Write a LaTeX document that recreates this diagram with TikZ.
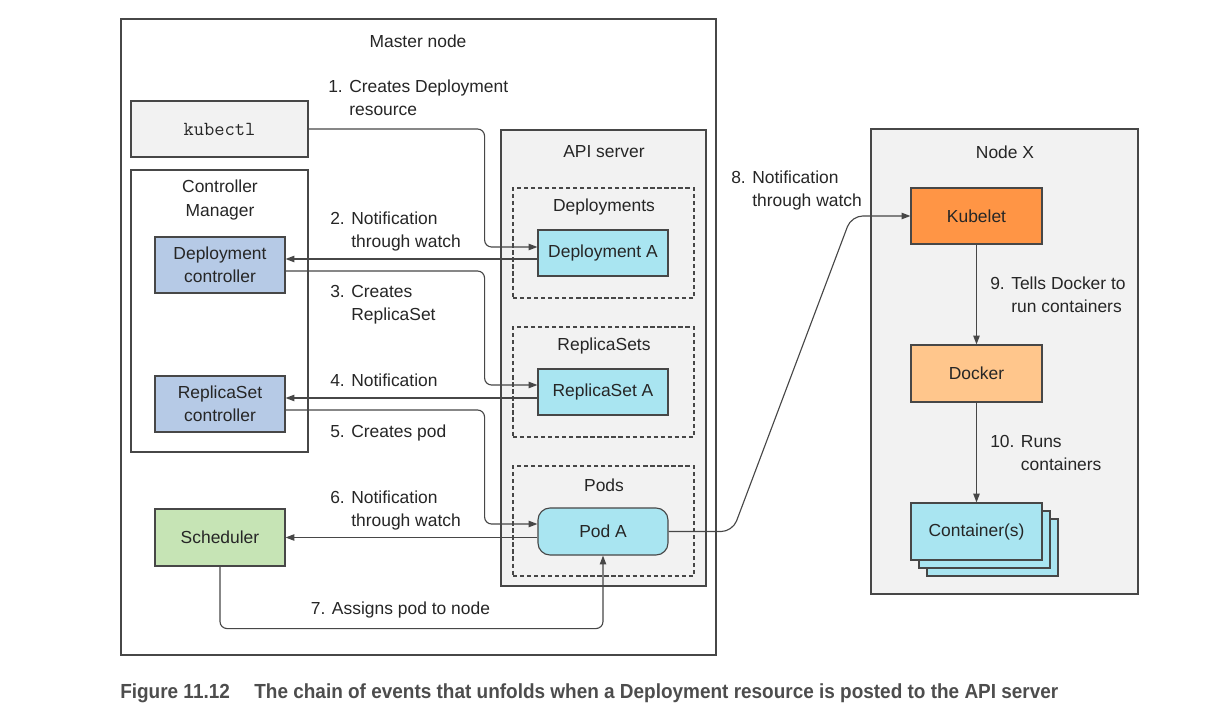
\documentclass[tikz,border=0pt]{standalone}
\usepackage{fontspec}
\setmainfont{Liberation Sans}
\newfontfamily\capfont[FakeStretch=0.93]{Liberation Sans}
\usepackage{xcolor}
\definecolor{cLine}{HTML}{474747}
\definecolor{cText}{HTML}{262626}
\definecolor{cPanel}{HTML}{F2F2F2}
\definecolor{cCtl}{HTML}{B6CAE6}
\definecolor{cSched}{HTML}{C6E4B5}
\definecolor{cRes}{HTML}{A9E5F1}
\definecolor{cKubelet}{HTML}{FF9545}
\definecolor{cDocker}{HTML}{FFC68C}
\definecolor{cCap}{HTML}{4D4D4D}
\usetikzlibrary{positioning,arrows.meta,calc}
\tikzset{
  wh/.style 2 args={minimum width={#1*0.025cm},minimum height={#2*0.025cm}},
  node-frame/.style={draw=cLine,line width=0.8pt,fill=white,inner sep=0pt},
  node-panel/.style={node-frame,fill=cPanel},
  node-group/.style={draw=cLine,line width=0.8pt,dashed,dash pattern=on 3pt off 2pt,inner sep=0pt},
  node-box/.style={draw=cLine,line width=0.8pt,align=center,inner sep=0pt},
  node-ctl/.style={node-box,fill=cCtl},
  node-sched/.style={node-box,fill=cSched},
  node-res/.style={node-box,fill=cRes},
  node-kubelet/.style={node-box,fill=cKubelet},
  node-docker/.style={node-box,fill=cDocker},
  step-label/.style={anchor=north west,inner sep=0pt,align=left},
  arrow/.style={-{Triangle[length=2.2mm,width=1.6mm]},line width=0.8pt,draw=cLine,rounded corners=5pt},
}

\begin{document}
\begin{tikzpicture}[x=0.025cm,y=-0.025cm,every node/.append style={font=\fontsize{12.4}{16.4}\selectfont,text=cText}]
  \useasboundingbox (0,0) rectangle (1222,714);
  % master node with its controllers
  \node[node-frame,wh={595}{636}] (master) at (418.5,337) {};
  \node (masterlbl) at (418,41) {Master node};
  \node[node-panel,wh={177}{56}] (kubectl) at (219.5,129) {\ttfamily\fontsize{14.2}{16}\selectfont kubectl};
  \node[node-frame,wh={177}{282}] (cm) at (219.5,311) {};
  \node[align=center] (cmlbl) at (220,200) {Controller\\Manager};
  \node[node-ctl,wh={130}{56}] (depctl) at (220,265) {Deployment\\controller};
  \node[node-ctl,wh={130}{56}] (rsctl) at (220,404) {ReplicaSet\\controller};
  \node[node-sched,wh={130}{57}] (sched) at (220,537.5) {Scheduler};

  \node[node-panel,wh={205}{456}] (api) at (603.5,358) {};
  \node (apilbl) at (604,152) {API server};
  \node[node-group,wh={181}{110}] (deps) at (603.5,243) {};
  \node[node-group,wh={181}{110}] (rss) at (603.5,382) {};
  \node[node-group,wh={181}{110}] (pods) at (603.5,521) {};
  \node (depslbl) at (604,207) {Deployments};
  \node (rsslbl) at (604,346) {ReplicaSets};
  \node (podslbl) at (604,485) {Pods};
  \node[node-res,wh={130}{46}] (depA) at (603,253) {Deployment A};
  \node[node-res,wh={130}{46}] (rsA) at (603,392) {ReplicaSet A};
  \node[node-res,wh={130}{47},rounded corners=3mm] (podA) at (603,531.5) {Pod A};

  \node[node-panel,wh={267}{465}] (nodex) at (1004.5,361.5) {};
  \node (nodexlbl) at (1005,152) {Node X};
  \node[node-kubelet,wh={131}{56}] (kubelet) at (976.5,216) {Kubelet};
  \node[node-docker,wh={131}{57}] (docker) at (976.5,373.5) {Docker};
  \node[node-res,wh={131}{57}] (cont3) at (992.5,547.5) {};
  \node[node-res,wh={131}{57}] (cont2) at (984.5,539.5) {};
  \node[node-res,wh={131}{57}] (cont) at (976.5,531.5) {Container(s)};

  \draw[arrow] (kubectl.east) -- ++(176,0) |- ($(depA.west)+(0,-6)$);
  \draw[arrow] ($(depA.west)+(0,6)$) -- ($(depctl.east)+(0,-6)$);
  \draw[arrow] ($(depctl.east)+(0,6)$) -- ++(199,0) |- ($(rsA.west)+(0,-7)$);
  \draw[arrow] ($(rsA.west)+(0,6)$) -- ($(rsctl.east)+(0,-6)$);
  \draw[arrow] ($(rsctl.east)+(0,6)$) -- ++(199,0) |- ($(podA.west)+(0,-7.5)$);
  \draw[arrow] (sched.east -| podA.west) -- (sched.east);
  \draw[arrow] (sched.south) -- ++(0,62) -| (podA.south);
  \draw[arrow,rounded corners=8pt] (podA.east) -- ++(64,0) -- ($(kubelet.west)+(-59,0)$) -- (kubelet.west);
  \draw[arrow] (kubelet) -- (docker);
  \draw[arrow] (docker) -- (cont);

  \node[step-label] (l1) at (328,80) {1. Creates Deployment\\\phantom{1. }resource};
  \node[step-label] (l2) at (330,212) {2. Notification\\\phantom{2. }through watch};
  \node[step-label] (l3) at (330,285) {3. Creates\\\phantom{3. }ReplicaSet};
  \node[step-label] (l4) at (330,374) {4. Notification};
  \node[step-label] (l5) at (330,425) {5. Creates pod};
  \node[step-label] (l6) at (330,491) {6. Notification\\\phantom{6. }through watch};
  \node[step-label,anchor=north] (l7) at (400.5,602) {7. Assigns pod to node};
  \node[step-label] (l8) at (731,171) {8. Notification\\\phantom{8. }through watch};
  \node[step-label] (l9) at (990,277) {9. Tells Docker to\\\phantom{9. }run containers};
  \node[step-label] (l10) at (990,435) {10. Runs\\\phantom{10. }containers};

  \node[anchor=base west,inner sep=0pt,text=cCap,font=\capfont\bfseries\fontsize{14.5}{16}\selectfont] (caption) at (120,698)
    {Figure 11.12\hspace{1.2em}The chain of events that unfolds when a Deployment resource is posted to the API server};
\end{tikzpicture}
\end{document}
